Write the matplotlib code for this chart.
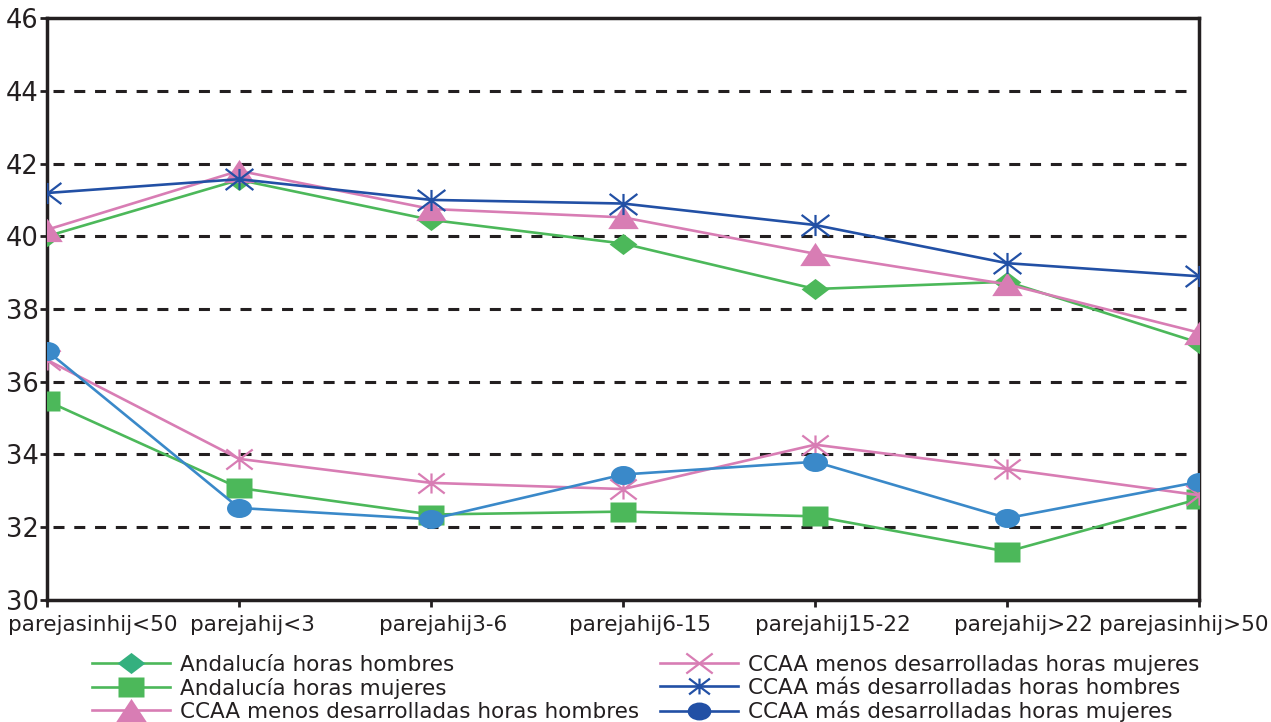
import matplotlib
matplotlib.use("Agg")
import numpy as np
import matplotlib.pyplot as plt
from matplotlib.path import Path
from matplotlib.lines import Line2D
from matplotlib.transforms import ScaledTranslation

# categories on the x axis
categorias = ["parejasinhij<50", "parejahij<3", "parejahij3-6", "parejahij6-15",
              "parejahij15-22", "parejahij>22", "parejasinhij>50"]

# weekly hours per series
and_hombres = [40.0, 41.55, 40.45, 39.8, 38.55, 38.75, 37.07]
and_mujeres = [35.47, 33.08, 32.35, 32.43, 32.3, 31.33, 32.78]
menos_hombres = [40.18, 41.8, 40.75, 40.52, 39.52, 38.68, 37.35]
menos_mujeres = [36.6, 33.88, 33.22, 33.05, 34.27, 33.6, 32.88]
mas_hombres = [41.19, 41.57, 41.0, 40.9, 40.31, 39.26, 38.9]
mas_mujeres = [36.85, 32.53, 32.22, 33.45, 33.8, 32.25, 33.25]

etiquetas = ["Andalucía horas hombres", "Andalucía horas mujeres",
             "CCAA menos desarrolladas horas hombres",
             "CCAA menos desarrolladas horas mujeres",
             "CCAA más desarrolladas horas hombres",
             "CCAA más desarrolladas horas mujeres"]

plt.rcParams["font.family"] = ["DejaVu Sans"]

GREEN = "#4cb85a"
TEAL = "#34b07f"
PINK = "#d87db4"
DBLUE = "#2250a5"
LBLUE = "#3a89c9"
INK = "#231f20"

# markers in the original are squashed vertically
SQ = 0.76
diamond = Path([(-1, 0), (0, SQ), (1, 0), (0, -SQ), (-1, 0)])
square = Path([(-1, -SQ), (1, -SQ), (1, SQ), (-1, SQ), (-1, -SQ)])
triangle = Path([(-1, -SQ), (1, -SQ), (0, SQ), (-1, -SQ)])
circ = Path.unit_circle()
ellipse = Path(circ.vertices * [1, SQ], circ.codes)
cross = Path([(-1, -SQ), (1, SQ), (-1, SQ), (1, -SQ)],
             [Path.MOVETO, Path.LINETO, Path.MOVETO, Path.LINETO])
star = Path([(-1, -SQ), (1, SQ), (-1, SQ), (1, -SQ), (0, -SQ), (0, SQ)],
            [Path.MOVETO, Path.LINETO, Path.MOVETO, Path.LINETO, Path.MOVETO, Path.LINETO])

fig = plt.figure(figsize=(12.71, 7.22), dpi=100)
ax = fig.add_axes([0.037, 0.169, 0.9065, 0.806])

LW = 1.9
x = list(range(len(categorias)))
ax.plot(x, and_hombres, color=GREEN, lw=LW, marker=diamond, ms=20, mec="none", zorder=3)
ax.plot(x, and_mujeres, color=GREEN, lw=LW, marker=square, ms=19, mec="none", zorder=3)
ax.plot(x, menos_hombres, color=PINK, lw=LW, marker=triangle, ms=22, mec="none", zorder=3)
ax.plot(x, menos_mujeres, color=PINK, lw=LW, marker=star, ms=19, mew=1.6, mfc="none", zorder=3)
ax.plot(x, mas_hombres, color=DBLUE, lw=LW, marker=star, ms=20, mew=1.6, mfc="none", zorder=4)
ax.plot(x, mas_mujeres, color=LBLUE, lw=LW, marker=ellipse, ms=18, mec="none", zorder=3)

ax.set_xlim(0, 6)
ax.set_ylim(30, 46)
ax.set_yticks(range(30, 47, 2))
ax.set_xticks(x)
ax.set_xticklabels(categorias, fontsize=15.5, color=INK)
ax.tick_params(axis="y", labelsize=18.5, length=5, width=2, pad=1, colors=INK)
ax.tick_params(axis="x", length=5, width=2, pad=6, colors=INK)

# label shifts as in the original (pixels)
shifts = [-39, 13, 12, 17, 18, 16, 69]
for i, t in enumerate(ax.get_xticklabels()):
    if i == 0:
        t.set_ha("left")
    elif i == len(categorias) - 1:
        t.set_ha("right")
    t.set_transform(t.get_transform() + ScaledTranslation(shifts[i] / 100, 0, fig.dpi_scale_trans))

for yv in range(32, 45, 2):
    ax.axhline(yv, xmin=0.005, xmax=0.99, color=INK, lw=2.2, ls=(0, (3.6, 3.2)), zorder=1)

for s in ax.spines.values():
    s.set_linewidth(2.5)
    s.set_color(INK)

handles = [
    Line2D([], [], color=GREEN, lw=LW, marker=diamond, ms=20, mec="none", mfc=TEAL),
    Line2D([], [], color=GREEN, lw=LW, marker=square, ms=19, mec="none"),
    Line2D([], [], color=PINK, lw=LW, marker=triangle, ms=22, mec="none"),
    Line2D([], [], color=PINK, lw=LW, marker=cross, ms=19, mew=1.6),
    Line2D([], [], color=DBLUE, lw=LW, marker=star, ms=15, mew=1.6),
    Line2D([], [], color=DBLUE, lw=LW, marker=ellipse, ms=17, mec="none"),
]
fig.legend(handles, etiquetas, ncol=2, loc="lower left", bbox_to_anchor=(0.066, -0.012),
           frameon=False, fontsize=15.5, handlelength=3.6, handletextpad=0.45,
           labelspacing=0.14, columnspacing=1.0, borderaxespad=0, labelcolor=INK)

fig.savefig("out.png", dpi=100)
